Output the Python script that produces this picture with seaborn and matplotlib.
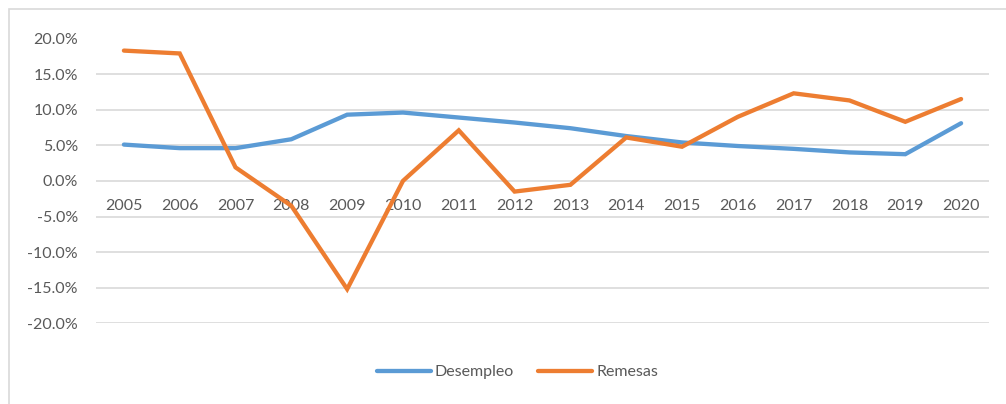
import matplotlib
matplotlib.use("Agg")
import matplotlib.pyplot as plt
import matplotlib.ticker as mticker
from matplotlib.patches import Rectangle
from matplotlib.lines import Line2D
import seaborn as sns
import pandas as pd

years = [str(y) for y in range(2005, 2021)]
desempleo = [5.1, 4.6, 4.6, 5.85, 9.3, 9.6, 8.9, 8.2, 7.4, 6.3, 5.4, 4.9, 4.5, 4.0, 3.75, 8.1]
remesas = [18.3, 17.9, 1.9, -3.5, -15.2, 0.0, 7.1, -1.5, -0.55, 6.1, 4.8, 9.0, 12.3, 11.3, 8.3, 11.5]
series_names = ["Desempleo", "Remesas"]
colors = ["#5B9BD5", "#ED7D31"]

df = pd.DataFrame({
    "year": years * 2,
    "value": desempleo + remesas,
    "serie": [series_names[0]] * len(years) + [series_names[1]] * len(years),
})
df["x"] = list(range(len(years))) * 2

sns.set_theme(style="white")
plt.rcParams["font.family"] = ["Lato", "DejaVu Sans"]

fig = plt.figure(figsize=(10.06, 4.04), dpi=100)
ax = fig.add_axes([96 / 1006, 1 - 323.3 / 404, (989 - 96) / 1006, (323.3 - 38.5) / 404])

sns.lineplot(data=df, x="x", y="value", hue="serie", palette=colors, linewidth=3.1,
             ax=ax, legend=False, zorder=3)
for line in ax.lines:
    line.set_solid_capstyle("round")
    line.set_solid_joinstyle("miter")

ax.set_xlim(-0.5, len(years) - 0.5)
ax.set_ylim(-20, 20)
ax.set_yticks(range(-20, 21, 5))
ax.yaxis.set_major_formatter(mticker.FuncFormatter(lambda v, p: f"{v:.1f}%"))
ax.set_xticks(range(len(years)))
ax.set_xticklabels(years)
ax.grid(axis="y", color="#D9D9D9", linewidth=1.2, zorder=0)
ax.grid(axis="x", visible=False)
for s in ["top", "right", "left"]:
    ax.spines[s].set_visible(False)
ax.spines["bottom"].set_position(("data", 0))
ax.spines["bottom"].set_visible(False)
ax.tick_params(axis="both", length=0, labelsize=11.5, colors="#595959")
ax.tick_params(axis="x", pad=13)
ax.tick_params(axis="y", pad=13)
ax.set_xlabel("")
ax.set_ylabel("")

handles = [Line2D([], [], color=c, linewidth=3.1, solid_capstyle="round") for c in colors]
leg = fig.legend(handles, series_names, loc="center", bbox_to_anchor=(517.5 / 1006, 1 - 372 / 404),
                 ncol=2, frameon=False, fontsize=11.5, handlelength=3.4, handletextpad=0.25,
                 columnspacing=1.5)
for t in leg.get_texts():
    t.set_color("#595959")

fig.patches.append(Rectangle((9 / 1006, -0.1), 1.2, 1 - 9 / 404 + 0.1, transform=fig.transFigure,
                             fill=False, edgecolor="#D9D9D9", linewidth=1.2))

fig.savefig("out.png", dpi=100)
